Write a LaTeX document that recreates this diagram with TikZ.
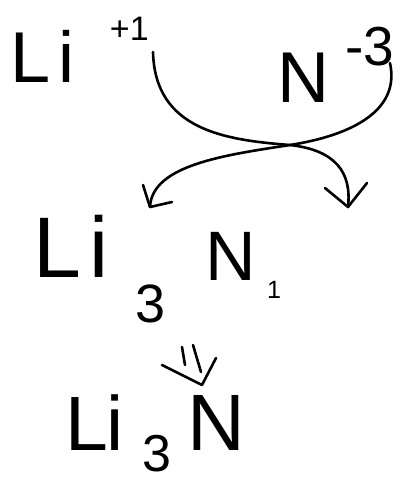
\documentclass[tikz,border=0pt]{standalone}
\usepackage{fontspec}
\setmainfont{Liberation Sans}
\begin{document}
\begin{tikzpicture}[x=1pt,y=-1pt,
  txt/.style={anchor=base west,inner sep=0pt,outer sep=0pt},
  ink/.style={line width=2.6pt,line cap=round,line join=round}]
\useasboundingbox (0,0) rectangle (406,483);
% row 1
\node[txt,font=\fontsize{72}{72}\selectfont] (li1) at (10,82) {L\kern8pt i};
\node[txt,font=\fontsize{34}{34}\selectfont] (p1) at (110,40) {+1};
\node[txt,font=\fontsize{72}{72}\selectfont] (n1) at (277,102) {N};
\node[txt,font=\fontsize{55}{55}\selectfont] (m3) at (345,65) {-3};
% row 2
\node[txt,font=\fontsize{86}{86}\selectfont] (li2) at (34,277) {L\kern8pt i};
\node[txt,font=\fontsize{54}{54}\selectfont] (s3a) at (135,322) {3};
\node[txt,font=\fontsize{70}{70}\selectfont] (n2) at (205,280) {N};
\node[txt,font=\fontsize{25}{25}\selectfont] (s1) at (267,298) {1};
% row 3
\node[txt,font=\fontsize{77}{77}\selectfont] (li3) at (66,450) {L\kern-2pt i};
\node[txt,font=\fontsize{52}{52}\selectfont] (s3b) at (142,471) {3};
\node[txt,font=\fontsize{80}{80}\selectfont] (n3) at (187,450) {N};
% crossing arrows
\coordinate (a0) at (153,52);
\coordinate (x) at (290,145);
\coordinate (a1) at (348,207);
\coordinate (b0) at (390,63);
\coordinate (b1) at (150,207);
\draw[ink] (a0) .. controls (155,130) and (225,140) .. (x)
  .. controls (335,150) and (352,172) .. (a1);
\draw[ink] (b0) .. controls (402,118) and (335,138) .. (x)
  .. controls (225,155) and (152,165) .. (b1);
\draw[ink] (325,188) -- (a1) -- (367,183);
\draw[ink] (143,185) -- (b1) -- (172,202);
% down double arrow
\coordinate (d1) at (202,385);
\draw[ink] (182,347) -- (185,365);
\draw[ink] (193,345) -- (201,372);
\draw[ink] (162,365) -- (d1) -- (216,358);
\end{tikzpicture}
\end{document}
